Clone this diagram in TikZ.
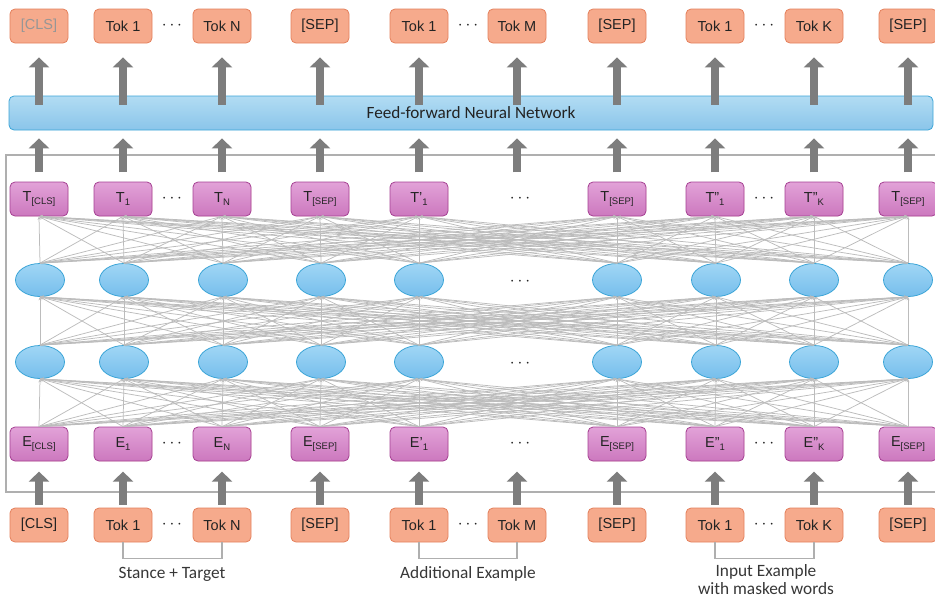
\documentclass[tikz,border=0pt]{standalone}
\usepackage{fontspec}
\setmainfont{Liberation Sans}
\newfontfamily\labelfont{Carlito}
\usetikzlibrary{arrows.meta,shapes.geometric}
\definecolor{tokfill}{RGB}{246,170,140}
\definecolor{tokborder}{RGB}{228,128,92}
\definecolor{purtop}{RGB}{226,162,216}
\definecolor{purbot}{RGB}{204,120,190}
\definecolor{purborder}{RGB}{165,65,148}
\definecolor{elltop}{RGB}{160,214,245}
\definecolor{ellbot}{RGB}{118,190,236}
\definecolor{ellborder}{RGB}{60,165,215}
\definecolor{bartop}{RGB}{178,220,243}
\definecolor{barbot}{RGB}{138,197,234}
\definecolor{netgray}{RGB}{188,188,188}
\definecolor{arrowgray}{RGB}{125,125,125}
\definecolor{framegray}{RGB}{175,175,175}
\definecolor{txt}{RGB}{35,35,35}
\definecolor{toplight}{RGB}{150,150,150}
\definecolor{labeltxt}{RGB}{55,55,55}
\newcommand\lowsub[1]{\raisebox{-0.35ex}{\fontsize{9.5}{10}\selectfont #1}}
\begin{document}
\begin{tikzpicture}[x=1pt,y=-1pt,
  tokbox/.style={rectangle, rounded corners=5pt, draw=tokborder, fill=tokfill, line width=0.8pt,
    minimum width=58pt, minimum height=34pt, inner sep=0pt, font=\fontsize{14.5}{16}\selectfont, text=txt},
  purbox/.style={tokbox, draw=purborder, top color=purtop, bottom color=purbot},
  neuron/.style={ellipse, draw=ellborder, line width=0.8pt, top color=elltop, bottom color=ellbot,
    minimum width=49pt, minimum height=33pt, inner sep=0pt},
  ffnnbar/.style={rectangle, rounded corners=5pt, draw=ellborder, line width=0.8pt, top color=bartop, bottom color=barbot,
    minimum width=924pt, minimum height=34pt, inner sep=0pt, font=\labelfont\fontsize{17.2}{18}\selectfont, text=txt},
  link/.style={draw=netgray, line width=0.75pt, -{Stealth[length=3.5pt,width=3pt]}},
  bigarrow/.style={draw=arrowgray, line width=8pt, -{Triangle[width=20pt,length=10pt]}},
  dotsnode/.style={font=\fontsize{19}{20}\selectfont, text=txt, inner sep=0pt},
  bracket/.style={draw=framegray, line width=1.2pt},
  lbl/.style={font=\labelfont\fontsize{17.3}{18}\selectfont, text=labeltxt, align=center, inner sep=0pt}
]
\useasboundingbox (0,0) rectangle (935,600);

% frame
\draw[framegray, line width=1.3pt] (940,155) -- (6,155) -- (6,492) -- (940,492);

% top output tokens
\node[tokbox, text=toplight] (top0) at (39,26) {[CLS]};
\node[tokbox] (top1) at (123,26) {Tok 1};
\node[tokbox] (top2) at (222,26) {Tok N};
\node[tokbox] (top3) at (320,26) {[SEP]};
\node[tokbox] (top4) at (419,26) {Tok 1};
\node[tokbox] (top5) at (517,26) {Tok M};
\node[tokbox] (top6) at (617,26) {[SEP]};
\node[tokbox] (top7) at (715,26) {Tok 1};
\node[tokbox] (top8) at (814,26) {Tok K};
\node[tokbox] (top9) at (908,26) {[SEP]};
\node[dotsnode] (dtop1) at (172,26) {$\cdots$};
\node[dotsnode] (dtop2) at (468,26) {$\cdots$};
\node[dotsnode] (dtop3) at (764,26) {$\cdots$};

% FFNN
\node[ffnnbar] (ffnn) at (471,113) {Feed-forward Neural Network};

% T row
\node[purbox] (t0) at (39,199) {T\lowsub{[CLS]}};
\node[purbox] (t1) at (123,199) {T\lowsub{1}};
\node[purbox] (t2) at (222,199) {T\lowsub{N}};
\node[purbox] (t3) at (320,199) {T\lowsub{[SEP]}};
\node[purbox] (t4) at (419,199) {T’\lowsub{1}};
\node[purbox] (t6) at (617,199) {T\lowsub{[SEP]}};
\node[purbox] (t7) at (715,199) {T”\lowsub{1}};
\node[purbox] (t8) at (814,199) {T”\lowsub{K}};
\node[purbox] (t9) at (908,199) {T\lowsub{[SEP]}};
\node[dotsnode] (dt1) at (172,199) {$\cdots$};
\node[dotsnode] (dt2) at (520,199) {$\cdots$};
\node[dotsnode] (dt3) at (764,199) {$\cdots$};

% neuron rows
\foreach \i/\x in {0/40,1/124,2/223,3/321,4/419,6/617,7/716,8/814,9/908} {
  \node[neuron] (n1-\i) at (\x,280) {};
  \node[neuron] (n2-\i) at (\x,362) {};
}
\node[dotsnode] (dn1) at (520,282) {$\cdots$};
\node[dotsnode] (dn2) at (520,364) {$\cdots$};

% E row
\node[purbox] (e0) at (39,444) {E\lowsub{[CLS]}};
\node[purbox] (e1) at (123,444) {E\lowsub{1}};
\node[purbox] (e2) at (222,444) {E\lowsub{N}};
\node[purbox] (e3) at (320,444) {E\lowsub{[SEP]}};
\node[purbox] (e4) at (419,444) {E’\lowsub{1}};
\node[purbox] (e6) at (617,444) {E\lowsub{[SEP]}};
\node[purbox] (e7) at (715,444) {E”\lowsub{1}};
\node[purbox] (e8) at (814,444) {E”\lowsub{K}};
\node[purbox] (e9) at (908,444) {E\lowsub{[SEP]}};
\node[dotsnode] (de1) at (172,444) {$\cdots$};
\node[dotsnode] (de2) at (520,444) {$\cdots$};
\node[dotsnode] (de3) at (764,444) {$\cdots$};

% bottom input tokens
\node[tokbox] (b0) at (39,525) {[CLS]};
\node[tokbox] (b1) at (123,525) {Tok 1};
\node[tokbox] (b2) at (222,525) {Tok N};
\node[tokbox] (b3) at (320,525) {[SEP]};
\node[tokbox] (b4) at (419,525) {Tok 1};
\node[tokbox] (b5) at (517,525) {Tok M};
\node[tokbox] (b6) at (617,525) {[SEP]};
\node[tokbox] (b7) at (715,525) {Tok 1};
\node[tokbox] (b8) at (814,525) {Tok K};
\node[tokbox] (b9) at (908,525) {[SEP]};
\node[dotsnode] (db1) at (172,525) {$\cdots$};
\node[dotsnode] (db2) at (468,525) {$\cdots$};
\node[dotsnode] (db3) at (764,525) {$\cdots$};

% fully connected links
\foreach \a in {0,1,2,3,4,6,7,8,9} {
  \foreach \b in {0,1,2,3,4,6,7,8,9} {
    \draw[link] (e\a.north) -- (n2-\b.south);
    \draw[link] (n2-\a.north) -- (n1-\b.south);
    \draw[link] (n1-\a.north) -- (t\b.south);
  }
}

% big arrows
\foreach \i in {0,...,9} {
  \draw[bigarrow] ([yshift=-9pt]ffnn.north -| top\i) -- ([yshift=-14pt]top\i.south);
  \draw[bigarrow] ([yshift=-42pt]ffnn.south -| top\i) -- ([yshift=-8pt]ffnn.south -| top\i);
  \draw[bigarrow] ([yshift=3pt]b\i.north) -- ([yshift=36pt]b\i.north);
}

% brackets
\draw[bracket] (b1.south) -- ++(0,16) -| (b2.south);
\draw[bracket] (b4.south) -- ++(0,16) -| (b5.south);
\draw[bracket] (b7.south) -- ++(0,16) -| (b8.south);

% labels
\node[lbl] (l1) at (172,574) {Stance + Target};
\node[lbl] (l2) at (468,574) {Additional Example};
\node[lbl] (l3) at (766,580) {Input Example\\with masked words};
\end{tikzpicture}
\end{document}
